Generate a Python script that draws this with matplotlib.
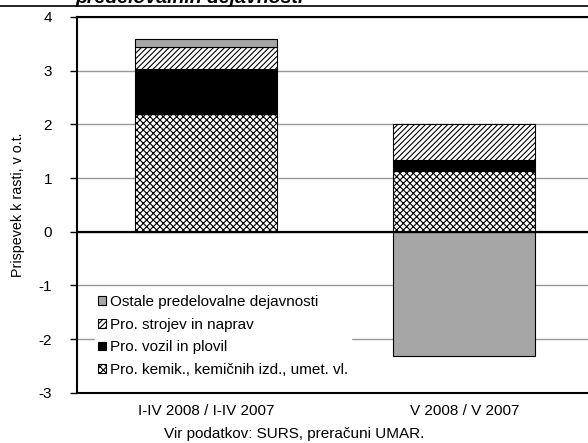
import numpy as np
import matplotlib
matplotlib.use("Agg")
import matplotlib.pyplot as plt
from matplotlib.lines import Line2D

plt.rcParams["font.family"] = ["Liberation Sans", "DejaVu Sans"]
plt.rcParams["axes.unicode_minus"] = False
plt.rcParams["hatch.linewidth"] = 0.8

# ── podatki ─────────────────────────────────────────────
categories = ["I-IV 2008 / I-IV 2007", "V 2008 / V 2007"]
kemik  = [2.19, 1.14]    # Pro. kemik., kemičnih izd., umet. vl.
vozila = [0.84, 0.20]    # Pro. vozil in plovil
stroji = [0.40, 0.67]    # Pro. strojev in naprav
ostale = [0.16, -2.31]   # Ostale predelovalne dejavnosti

labels = ["Pro. kemik., kemičnih izd., umet. vl.", "Pro. vozil in plovil",
          "Pro. strojev in naprav", "Ostale predelovalne dejavnosti"]

fig = plt.figure(figsize=(5.88, 4.43), dpi=100)
ax = fig.add_axes([0.131, 0.113, 0.878, 0.849])

x = np.arange(len(categories))
w = 0.55
kemik, vozila, stroji, ostale = map(np.array, (kemik, vozila, stroji, ostale))

# pozitivni deli se zlagajo navzgor, negativni navzdol
pos_base = np.zeros(len(x))
neg_base = np.zeros(len(x))
styles = [dict(color="white", hatch="xxxxx", edgecolor="black"),
          dict(color="black", edgecolor="black"),
          dict(color="white", hatch="//////", edgecolor="black"),
          dict(color="#a6a6a6", edgecolor="black")]
handles = []
for vals, st, lab in zip((kemik, vozila, stroji, ostale), styles, labels):
    base = np.where(vals >= 0, pos_base, neg_base)
    b = ax.bar(x, vals, w, bottom=base, linewidth=0.8, label=lab, zorder=3, **st)
    handles.append(b)
    pos_base = pos_base + np.where(vals >= 0, vals, 0)
    neg_base = neg_base + np.where(vals < 0, vals, 0)

ax.set_xlim(-0.5, 1.5)
ax.set_ylim(-3, 4)
ax.set_yticks(range(-3, 5))
ax.yaxis.grid(True, color="#999999", lw=1, zorder=0)
ax.axhline(0, color="black", lw=1.6, zorder=4)
ax.set_xticks(x)
ax.set_xticklabels(categories, fontsize=11)
ax.tick_params(axis="x", length=0, pad=8)
ax.tick_params(axis="y", labelsize=11, length=5, width=1, direction="out", pad=13)
for s in ("left", "top", "bottom"):
    ax.spines[s].set_linewidth(1.5)
ax.spines["right"].set_visible(False)
ax.set_ylabel("Prispevek k rasti, v o.t.", fontsize=10.3, labelpad=10)

leg = ax.legend(handles[::-1], labels[::-1], loc="upper left", bbox_to_anchor=(0.035, 0.268),
                fontsize=11, frameon=True, framealpha=1, edgecolor="white",
                handlelength=0.5, handleheight=0.5, handletextpad=0.25,
                labelspacing=0.56, borderpad=0.2, borderaxespad=0)
leg.set_zorder(5)

fig.text(0.5, 5 / 443, "Vir podatkov: SURS, preračuni UMAR.", ha="center", fontsize=11)
fig.text(0.128, 1 - 3 / 443, "predelovalnih dejavnosti", fontsize=14,
         fontweight="bold", fontstyle="italic", va="baseline")
fig.add_artist(Line2D([0, 1], [1 - 6 / 443] * 2, color="black", lw=1.2,
                      transform=fig.transFigure))

fig.savefig("out.png", dpi=100)
